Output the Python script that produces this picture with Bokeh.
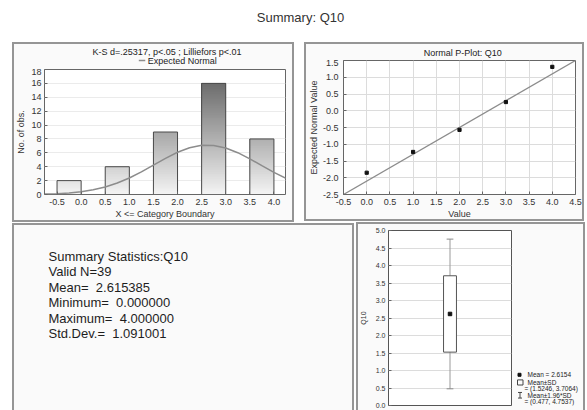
from bokeh.plotting import figure
from bokeh.layouts import column, row
from bokeh.models import FixedTicker, PrintfTickFormatter
from bokeh.core.properties import value
from bokeh.embed import file_html
from bokeh.resources import INLINE

FONT = "Liberation Sans"

# ---------------- data ----------------
page_title = "Summary: Q10"

hist_title = "K-S d=.25317, p<.05 ; Lilliefors p<.01"
hist_legend = "Expected Normal"
hist_xlabel = "X <= Category Boundary"
hist_ylabel = "No. of obs."
hist_bin_left = [-0.5, 0.5, 1.5, 2.5, 3.5]
hist_bin_right = [0.0, 1.0, 2.0, 3.0, 4.0]
hist_counts = [2, 4, 9, 16, 8]
hist_x_ticks = [-0.5, 0.0, 0.5, 1.0, 1.5, 2.0, 2.5, 3.0, 3.5, 4.0]
hist_y_ticks = [0, 2, 4, 6, 8, 10, 12, 14, 16, 18]
normal_x = [-0.75, -0.5, -0.25, 0.0, 0.25, 0.5, 0.75, 1.0, 1.25, 1.5, 1.75,
            2.0, 2.25, 2.5, 2.75, 3.0, 3.25, 3.5, 3.75, 4.0, 4.25]
normal_y = [0.06, 0.12, 0.23, 0.40, 0.68, 1.09, 1.65, 2.38, 3.26, 4.23, 5.20,
            6.08, 6.74, 7.09, 7.07, 6.70, 6.02, 5.13, 4.15, 3.19, 2.32]

pp_title = "Normal P-Plot: Q10"
pp_xlabel = "Value"
pp_ylabel = "Expected Normal Value"
pp_value = [0, 1, 2, 3, 4]
pp_expected = [-1.85, -1.23, -0.57, 0.26, 1.31]
pp_line_x = [-0.5, 4.5]
pp_line_y = [-2.5, 1.5]
pp_x_ticks = [-0.5, 0.0, 0.5, 1.0, 1.5, 2.0, 2.5, 3.0, 3.5, 4.0, 4.5]
pp_y_ticks = [-2.5, -2.0, -1.5, -1.0, -0.5, 0.0, 0.5, 1.0, 1.5]

stats_lines = ["Summary Statistics:Q10", "Valid N=39", "Mean=\u00a0 2.615385",
               "Minimum=\u00a0 0.000000", "Maximum=\u00a0 4.000000",
               "Std.Dev.=\u00a0 1.091001"]

box_label = "Q10"
box_mean = 2.6154
box_sd_low, box_sd_high = 1.5246, 3.7064
box_ci_low, box_ci_high = 0.477, 4.7537
box_y_ticks = [0.0, 0.5, 1.0, 1.5, 2.0, 2.5, 3.0, 3.5, 4.0, 4.5, 5.0]

# ---------------- helpers ----------------
BORDER = "#959595"
PANEL = "#fafafa"


def pixel_fig(w, h):
    f = figure(width=w, height=h, x_range=(0, w), y_range=(h, 0),
               x_axis_type=None, y_axis_type=None, toolbar_location=None,
               output_backend="svg", min_border=0)
    f.outline_line_color = None
    f.grid.visible = False
    f.background_fill_color = None
    f.border_fill_color = None
    return f


def put_text(f, x, y, text, size="9px", align="left", color="#222222", font=FONT):
    f.text(x=[x], y=[y], text=[text], text_font=value(font),
           text_font_size=size, text_color=color, text_align=align,
           text_baseline="middle")


def style_axes(p, size="9px"):
    p.border_fill_color = None
    p.background_fill_color = "white"
    for ax in p.axis:
        ax.major_label_text_font = FONT
        ax.major_label_text_font_size = size
        ax.major_label_text_color = "#333333"
        ax.axis_label_text_font = FONT
        ax.axis_label_text_font_size = size
        ax.axis_label_text_font_style = "normal"
        ax.axis_label_text_color = "#333333"
        ax.axis_line_color = None
        ax.major_tick_in = 3
        ax.major_tick_out = 0
        ax.major_tick_line_color = "#666666"
        ax.minor_tick_line_color = None


def css_box(x, y, w, h, c=BORDER, t=2):
    g = "linear-gradient(%s,%s)" % (c, c)
    return [
        "%s %dpx %dpx / %dpx %dpx no-repeat" % (g, x, y, w, t),
        "%s %dpx %dpx / %dpx %dpx no-repeat" % (g, x, y + h - t, w, t),
        "%s %dpx %dpx / %dpx %dpx no-repeat" % (g, x, y, t, h),
        "%s %dpx %dpx / %dpx %dpx no-repeat" % (g, x + w - t, y, t, h),
    ]


def css_fill(x, y, w, h, c=PANEL):
    return ["linear-gradient(%s,%s) %dpx %dpx / %dpx %dpx no-repeat"
            % (c, c, x, y, w, h)]


# ---------------- page title ----------------
pt = pixel_fig(587, 42)
put_text(pt, 300, 17, page_title, size="13px", align="center", color="#333333")

# ---------------- histogram ----------------
t1 = pixel_fig(299, 26)
put_text(t1, 152, 9, hist_title, align="center")
t1.line([117, 125], [18, 18], line_color="#8c8c8c", line_width=1.5)
put_text(t1, 128, 18, hist_legend)

p1 = figure(width=299, height=154, x_range=(-0.76, 4.24), y_range=(0, 18),
            toolbar_location=None, output_backend="svg",
            min_border_left=44, min_border_right=14, min_border_top=1,
            min_border_bottom=28)
p1.outline_line_color = "#666666"
p1.xgrid.visible = False
p1.ygrid.grid_line_color = "#ebebeb"
p1.xaxis.ticker = FixedTicker(ticks=hist_x_ticks)
p1.xaxis.formatter = PrintfTickFormatter(format="%.1f")
p1.yaxis.ticker = FixedTicker(ticks=hist_y_ticks)
p1.xaxis.axis_label = hist_xlabel
p1.yaxis.axis_label = hist_ylabel
style_axes(p1)
p1.xaxis.major_label_standoff = 4
p1.xaxis.axis_label_standoff = 1
p1.yaxis.major_label_standoff = 3
p1.yaxis.axis_label_standoff = 2

# gradient bars: stacked slices, darker with height
step = 0.25
cmax = max(hist_counts)
sl_l, sl_r, sl_b, sl_t, sl_c = [], [], [], [], []
for l, r, c in zip(hist_bin_left, hist_bin_right, hist_counts):
    n = int(round(c / step))
    for k in range(n):
        y0 = k * step
        g = int(round(244 - 136 * (y0 + step / 2) / cmax))
        sl_l.append(l)
        sl_r.append(r)
        sl_b.append(y0)
        sl_t.append(c)
        sl_c.append("#%02x%02x%02x" % (g, g, g))
p1.quad(left=sl_l, right=sl_r, bottom=sl_b, top=sl_t, fill_color=sl_c,
        line_color=None)
p1.quad(left=hist_bin_left, right=hist_bin_right, bottom=0, top=hist_counts,
        fill_color=None, line_color="#4a4a4a", line_width=1)
p1.line(normal_x, normal_y, line_color="#8c8c8c", line_width=1.5)

# ---------------- normal probability plot ----------------
t2 = pixel_fig(288, 17)
put_text(t2, 148, 10, pp_title, align="center")

p2 = figure(width=288, height=163, x_range=(-0.5, 4.5), y_range=(-2.5, 1.5),
            toolbar_location=None, output_backend="svg",
            min_border_left=44, min_border_right=12, min_border_top=1,
            min_border_bottom=28)
p2.outline_line_color = "#666666"
p2.grid.grid_line_color = "#dcdcdc"
p2.xaxis.ticker = FixedTicker(ticks=pp_x_ticks)
p2.yaxis.ticker = FixedTicker(ticks=pp_y_ticks)
p2.xaxis.formatter = PrintfTickFormatter(format="%.1f")
p2.yaxis.formatter = PrintfTickFormatter(format="%.1f")
p2.xaxis.axis_label = pp_xlabel
p2.yaxis.axis_label = pp_ylabel
style_axes(p2)
p2.xaxis.major_label_standoff = 4
p2.xaxis.axis_label_standoff = 1
p2.yaxis.major_label_standoff = 5
p2.yaxis.axis_label_standoff = 1
p2.line(pp_line_x, pp_line_y, line_color="#8c8c8c", line_width=1.3)
p2.scatter(pp_value, pp_expected, marker="square", size=3.2,
           fill_color="#111111", line_color="#111111")

# ---------------- summary text ----------------
p3 = pixel_fig(355, 188)
p3.text(x=[48] * len(stats_lines), y=[27.5, 44, 61, 77.5, 94, 111],
        text=stats_lines, text_font=value(FONT), text_font_size="13px",
        text_color="#1e1e1e", text_align="left", text_baseline="middle")

# ---------------- box plot ----------------
p4 = figure(width=157, height=188, x_range=(-1, 1), y_range=(0, 5),
            x_axis_type=None, toolbar_location=None, output_backend="svg",
            min_border_left=33, min_border_right=1, min_border_top=8,
            min_border_bottom=5)
p4.outline_line_color = "#555555"
p4.ygrid.grid_line_color = "#dcdcdc"
p4.yaxis.ticker = FixedTicker(ticks=box_y_ticks)
p4.yaxis.formatter = PrintfTickFormatter(format="%.1f")
p4.yaxis.axis_label = box_label
style_axes(p4, size="7px")
p4.yaxis.major_label_standoff = 3
p4.yaxis.axis_label_standoff = 6
p4.segment(x0=[0], y0=[box_ci_low], x1=[0], y1=[box_ci_high],
           line_color="#9a9a9a", line_width=1)
p4.segment(x0=[-0.055, -0.055], y0=[box_ci_low, box_ci_high],
           x1=[0.055, 0.055], y1=[box_ci_low, box_ci_high],
           line_color="#8a8a8a", line_width=1)
p4.quad(left=[-0.105], right=[0.105], bottom=[box_sd_low], top=[box_sd_high],
        fill_color="white", line_color="#555555", line_width=1)
p4.scatter([0], [box_mean], marker="square", size=3.5, fill_color="#111111",
           line_color="#111111")

# legend of the box plot
lg = pixel_fig(75, 188)
lg.scatter([7], [155], marker="square", size=3, fill_color="#111111",
           line_color="#111111")
lg.quad(left=[5], right=[10.5], top=[160.5], bottom=[166], fill_color=None,
        line_color="#444444", line_width=1)
lg.segment(x0=[7.5, 5.5, 5.5], y0=[174, 174, 180], x1=[7.5, 9.5, 9.5],
           y1=[180, 174, 180], line_color="#444444", line_width=1)
put_text(lg, 15, 155, "Mean = %.4f" % box_mean, size="6.5px")
put_text(lg, 15, 163, "Mean\u00b1SD", size="6.5px")
put_text(lg, 12, 170, "= (%.4f, %.4f)" % (box_sd_low, box_sd_high), size="6.5px")
put_text(lg, 15, 177, "Mean\u00b11.96*SD", size="6.5px")
put_text(lg, 12, 183.5, "= (%.3f, %.4f)" % (box_ci_low, box_ci_high), size="6.5px")

# ---------------- panel borders (page background) ----------------
boxes = [(12, 42, 282, 180), (304, 42, 280, 179), (12, 223, 342, 200),
         (356, 222, 229, 200)]
layers = []
for b in boxes:
    layers += css_box(*b)
for b in boxes:
    layers += css_fill(*b)
page_style = {"background": ", ".join(layers) + ", white"}

layout = column(pt, row(column(t1, p1), column(t2, p2)), row(p3, p4, lg),
                styles=page_style)
open("out.html", "w").write(file_html(layout, INLINE))
